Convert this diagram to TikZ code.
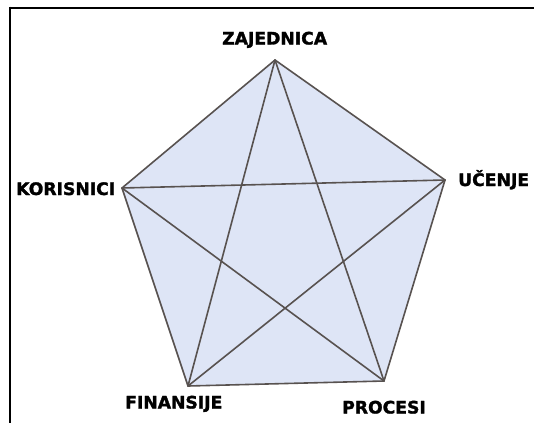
\documentclass[tikz,border=0pt]{standalone}
\usepackage{fontspec}
\newfontfamily\lblfont[BoldFeatures={FakeBold=1.6}]{DejaVu Sans}
\usepackage{tikz}
\definecolor{pentfill}{RGB}{222,229,246}
\definecolor{edgegray}{RGB}{88,82,80}
\tikzset{
  edge/.style={edgegray, line width=1.6pt, line cap=round},
  corner/.style={anchor=base west, inner sep=0pt},
}

\begin{document}
\begin{tikzpicture}[x=1pt, y=-1pt, font=\lblfont\bfseries\fontsize{17.2}{19}\selectfont]
  \useasboundingbox (0,0) rectangle (534,423);
  % frame
  \draw[line width=2pt] (9,7.5) -- (534,7.5);
  \draw[line width=2pt] (10,6.5) -- (10,423);
  % corners of the pentagon
  \coordinate (zaj) at (275,60);
  \coordinate (uce) at (445,180);
  \coordinate (pro) at (384,381);
  \coordinate (fin) at (188,386);
  \coordinate (kor) at (122,188);
  \fill[pentfill] (zaj) -- (uce) -- (pro) -- (fin) -- (kor) -- cycle;
  % sides
  \draw[edge, line join=round] (zaj) -- (uce) -- (pro) -- (fin) -- (kor) -- cycle;
  % diagonals
  \draw[edge] (zaj) -- (fin);
  \draw[edge] (zaj) -- (pro);
  \draw[edge] (kor) -- (uce);
  \draw[edge] (kor) -- (pro);
  \draw[edge] (uce) -- (fin);
  % labels
  \node[corner] (zajlbl) at (222,44.5) {ZAJEDNICA};
  \node[corner] (korlbl) at (16,195) {KORISNICI};
  \node[corner] (ucelbl) at (458,186) {UČENJE};
  \node[corner] (finlbl) at (125,408.5) {FINANSIJE};
  \node[corner] (prolbl) at (342,413.5) {PROCESI};
\end{tikzpicture}
\end{document}
